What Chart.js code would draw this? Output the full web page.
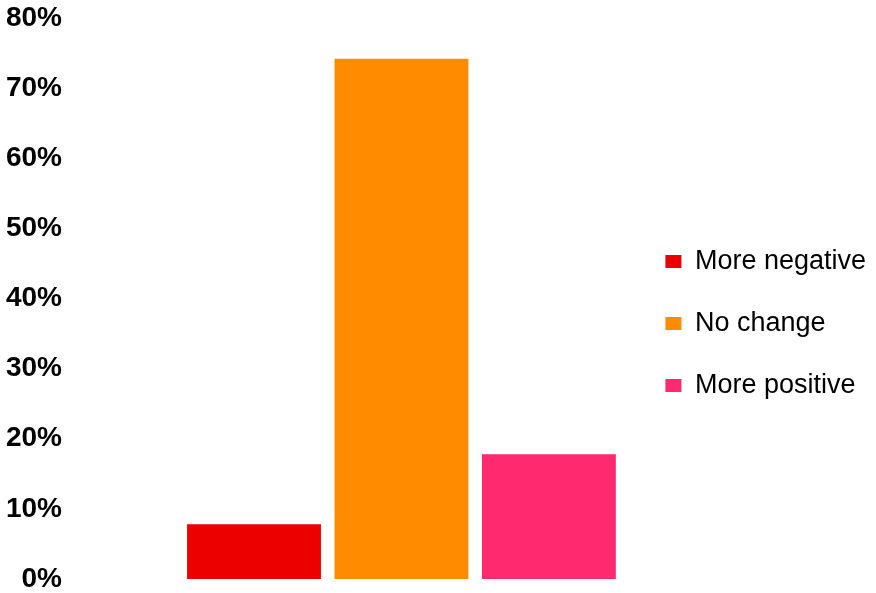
<!DOCTYPE html>
<html>
<head>
<meta charset="utf-8">
<script src="https://cdn.jsdelivr.net/npm/chart.js@4"></script>
<style>
  html, body { margin: 0; padding: 0; background: #fff; }
  #wrap { width: 876px; height: 593px; position: relative; }
</style>
</head>
<body>
<div id="wrap"><canvas id="grafico"></canvas></div>
<script>
// respostas (uma barra por série, como na legenda)
const series = ["More negative", "No change", "More positive"];
const valores = [7.8, 74.2, 17.8];
const cores = ["#EC0000", "#FF8C00", "#FF2970"];
const yTicks = [0, 10, 20, 30, 40, 50, 60, 70, 80];

const fonte = "'Liberation Sans', Arial, sans-serif";

const datasets = series.map((nome, i) => ({
    label: nome,
    data: [valores[i]],
    backgroundColor: cores[i],
    borderWidth: 0,
    barPercentage: 0.908,
    categoryPercentage: 0.966,
}));

new Chart(document.getElementById("grafico"), {
    type: "bar",
    data: {
        labels: [""],
        datasets: datasets,
    },
    options: {
        responsive: true,
        maintainAspectRatio: false,
        animation: false,
        layout: { padding: { top: 18, bottom: 13, left: 0, right: 0 } },
        plugins: {
            tooltip: { enabled: false },
            legend: {
                position: "right",
                maxWidth: 260,
                // título vazio só para descer a legenda
                title: { display: true, text: "", font: { size: 10, lineHeight: 1 }, padding: { top: 0, bottom: 39 } },
                labels: {
                    boxWidth: 16,
                    boxHeight: 13,
                    padding: 35,
                    color: "#000",
                    font: { family: fonte, size: 27 },
                },
            },
        },
        scales: {
            x: { display: false },
            y: {
                weight: 2,
                min: yTicks[0],
                max: yTicks[yTicks.length - 1],
                afterBuildTicks: (scale) => {
                    scale.ticks = yTicks.map(v => ({ value: v }));
                },
                afterFit: (scale) => {
                    scale.width = 62;
                },
                grid: { display: false, drawTicks: false },
                border: { display: false },
                ticks: {
                    padding: 0,
                    color: "#000",
                    font: { family: fonte, size: 28, weight: "bold", lineHeight: 1 },
                    callback: (v) => v + "%",
                },
            },
            // eixo vazio, só espaço entre rótulos e barras
            espaco: {
                type: "linear",
                position: "left",
                weight: 0,
                ticks: { display: false },
                grid: { display: false, drawTicks: false },
                border: { display: false },
                afterFit: (scale) => {
                    scale.width = 110.5;
                },
            },
        },
    },
});
</script>
</body>
</html>
